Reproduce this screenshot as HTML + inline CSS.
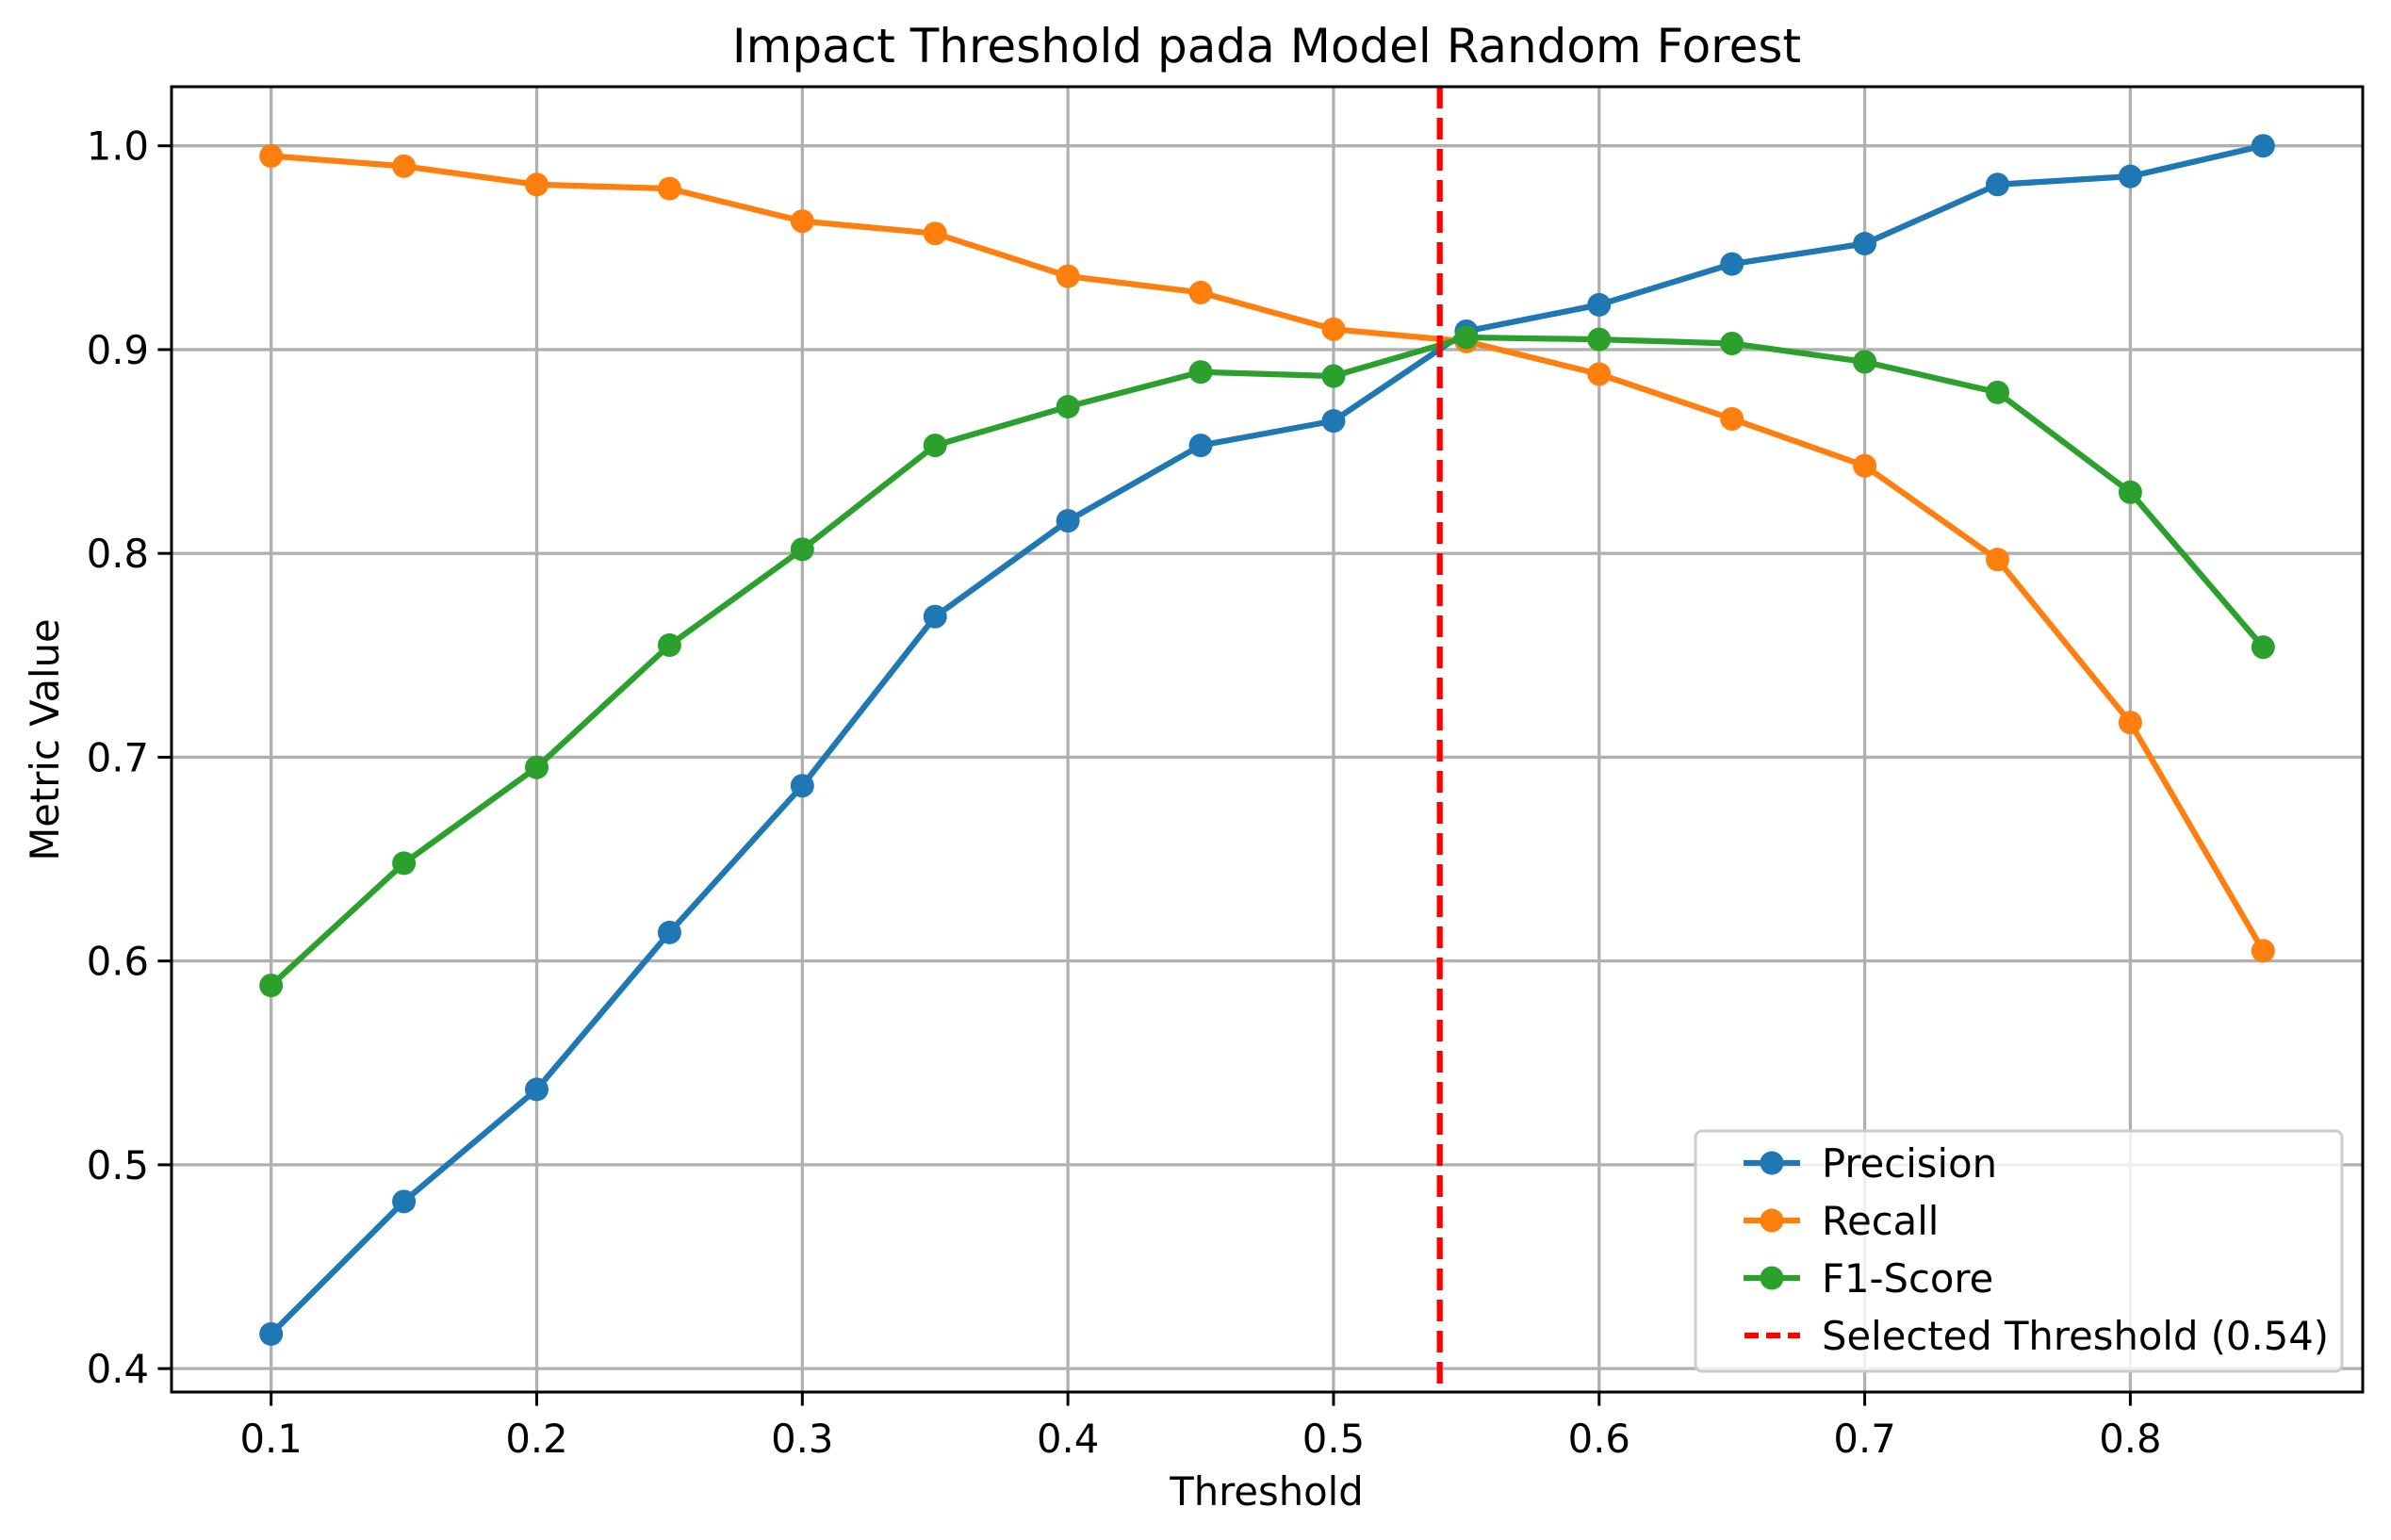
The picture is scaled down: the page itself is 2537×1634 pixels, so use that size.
<!DOCTYPE html>
<html><head><meta charset="utf-8"><style>
html,body{margin:0;padding:0;background:#fff}
svg{display:block;font-family:"DejaVu Sans","Liberation Sans",sans-serif}
</style></head><body>
<svg id="chart" width="2537" height="1634" viewBox="0 0 2537 1634" xmlns="http://www.w3.org/2000/svg">
<rect width="2537" height="1634" fill="#fff"/>
<text x="1344" y="66" font-size="50" text-anchor="middle">Impact Threshold pada Model Random Forest</text>
<g id="grid"></g>
<g id="series"></g>
<rect x="182" y="92" width="2325" height="1385" fill="none" stroke="#000" stroke-width="3"/>
<g id="ticks"></g>
<text x="1344" y="1597" font-size="41.7" text-anchor="middle">Threshold</text>
<text transform="translate(62,785) rotate(-90)" font-size="41.7" text-anchor="middle">Metric Value</text>
<g id="legend"></g>
</svg>
<script>
const thresholds=[0.1,0.15,0.2,0.25,0.3,0.35,0.4,0.45,0.5,0.55,0.6,0.65,0.7,0.75,0.8,0.85];
const precision=[0.417,0.482,0.537,0.614,0.686,0.769,0.816,0.853,0.865,0.909,0.922,0.942,0.952,0.981,0.985,1.0];
const recall=[0.995,0.990,0.981,0.979,0.963,0.957,0.936,0.928,0.910,0.904,0.888,0.866,0.843,0.797,0.717,0.605];
const f1=[0.588,0.648,0.695,0.755,0.802,0.853,0.872,0.889,0.887,0.906,0.905,0.903,0.894,0.879,0.830,0.754];
const selectedThreshold=0.54;
const xTicks=[0.1,0.2,0.3,0.4,0.5,0.6,0.7,0.8];
const yTicks=[0.4,0.5,0.6,0.7,0.8,0.9,1.0];
const seriesNames=["Precision","Recall","F1-Score"];
const colors=["#1f77b4","#ff7f0e","#2ca02c"];

const NS="http://www.w3.org/2000/svg";
const X0=182,X1=2507,Y0=1477,Y1=92;
const xmin=0.0625,xmax=0.8875,ymin=0.3885,ymax=1.0290;
const sx=v=>X0+(v-xmin)/(xmax-xmin)*(X1-X0);
const sy=v=>Y0-(v-ymin)/(ymax-ymin)*(Y0-Y1);
function mk(tag,attrs,parent){const e=document.createElementNS(NS,tag);for(const k in attrs)e.setAttribute(k,attrs[k]);parent.appendChild(e);return e;}
const grid=document.getElementById('grid'),ticks=document.getElementById('ticks'),ser=document.getElementById('series'),leg=document.getElementById('legend');
xTicks.forEach(t=>{
 const g=mk('line',{x1:sx(t),x2:sx(t),y1:Y1,y2:Y0,stroke:'#b0b0b0','stroke-width':3.3},grid);
 
 
 const tk=mk('line',{x1:sx(t),x2:sx(t),y1:Y0,y2:Y0+14.6,stroke:'#000','stroke-width':3},ticks);
 
 
 const l=mk('text',{x:sx(t),y:Y0+64,'font-size':41.7,'text-anchor':'middle'},ticks);
 l.textContent=t.toFixed(1);
 
 
});
yTicks.forEach(t=>{
 const g=mk('line',{x1:X0,x2:X1,y1:sy(t),y2:sy(t),stroke:'#b0b0b0','stroke-width':3.3},grid);
 
 
 const tk=mk('line',{x1:X0-14.6,x2:X0,y1:sy(t),y2:sy(t),stroke:'#000','stroke-width':3},ticks);
 
 
 const l=mk('text',{x:X0-24,y:sy(t)+15,'font-size':41.7,'text-anchor':'end'},ticks);
 l.textContent=t.toFixed(1);
 
 
});
[precision,recall,f1].forEach((vals,i)=>{
 const pts=thresholds.map((t,j)=>sx(t)+','+sy(vals[j])).join(' ');
 const pl=mk('polyline',{points:pts,fill:'none',stroke:colors[i],'stroke-width':6.25,'stroke-linejoin':'round'},ser);
 
 
 thresholds.forEach((t,j)=>{
  const c=mk('circle',{cx:sx(t),cy:sy(vals[j]),r:12.5,fill:colors[i]},ser);
  
  
 });
});
const rl=mk('line',{x1:sx(selectedThreshold),x2:sx(selectedThreshold),y1:Y1,y2:Y0,stroke:'#ff0000','stroke-width':6.25,'stroke-dasharray':'23,10'},ser);


// legend
const box=mk('rect',{x:1799,y:1200,width:686,height:255,rx:7,fill:'#fff','fill-opacity':0.8,stroke:'#cccccc','stroke-width':3},leg);


const rowsY=[1234,1295,1356,1417];
const labels=["Precision","Recall","F1-Score","Selected Threshold (0.54)"];
labels.forEach((lab,i)=>{
 const y=rowsY[i];
 if(i<3){
  const ln=mk('line',{x1:1850,x2:1910,y1:y,y2:y,stroke:colors[i],'stroke-width':6.25},leg);
  
  
  const c=mk('circle',{cx:1880,cy:y,r:12.5,fill:colors[i]},leg);
  
  
 } else {
  const ln=mk('line',{x1:1851,x2:1910,y1:y,y2:y,stroke:'#ff0000','stroke-width':6.25,'stroke-dasharray':'15,8'},leg);
  
  
 }
 const t=mk('text',{x:1933,y:y+15,'font-size':41.7},leg);
 t.textContent=lab;
 
 
});
</script>
</body></html>
